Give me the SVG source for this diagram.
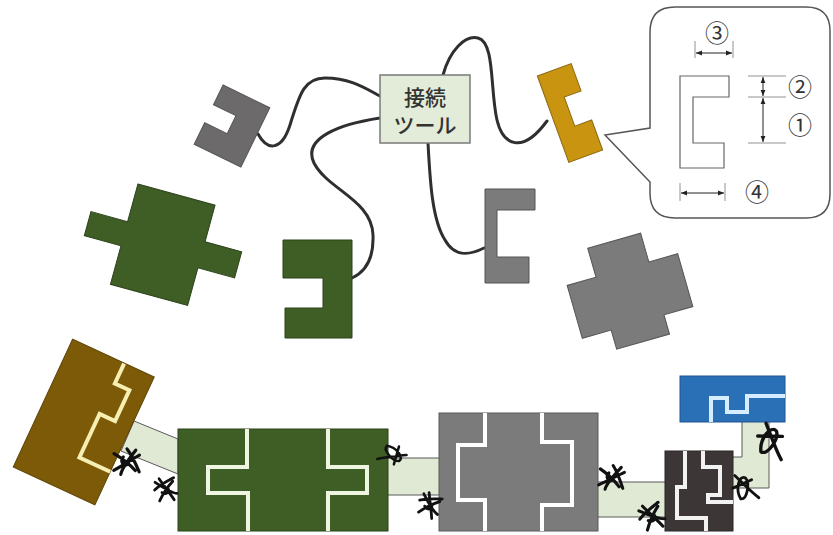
<svg xmlns="http://www.w3.org/2000/svg" width="833" height="535" viewBox="0 0 833 535">
  <style>
    .wire { fill: none; stroke: #2f2f2f; stroke-width: 3; stroke-linecap: round; }
    .piece { stroke-width: 1; stroke-linejoin: miter; }
    .strip { fill: #dfe9d3; stroke: #5a5a5a; stroke-width: 1; }
    .trace { fill: none; stroke-width: 4; stroke-linejoin: miter; }
    .scrib { fill: none; stroke: #111; stroke-width: 2.8; stroke-linecap: round; stroke-linejoin: round; }
    .jp { font-family: "Noto Sans CJK JP", "Noto Sans", sans-serif; fill: #333; }
    .num { font-family: "Noto Sans CJK JP", "DejaVu Sans", sans-serif; fill: #333; font-size: 24px; text-anchor: middle; }
    .dim { stroke: #222; stroke-width: 1; fill: none; }
    .ext { stroke: #777; stroke-width: 0.8; fill: none; }
  </style>
  <defs>
    <marker id="ah" viewBox="0 0 10 10" refX="10" refY="5" markerWidth="6" markerHeight="6" orient="auto-start-reverse">
      <path d="M0,1 L10,5 L0,9 Z" fill="#222"/>
    </marker>
    <!-- hand-drawn bond marks -->
    <path id="star" d="M-11,-3 C-4,-6 4,-7 11,-8 M-3,-12 C-1,-4 2,4 4,13 M-10,9 C-4,3 3,-2 9,-5 M-8,-10 C-2,-2 4,6 9,8 M-5,2 C-2,6 3,4 2,0"/>
    <path id="loop" d="M-8,-14 C-2,-6 6,6 12,12 M-6,10 C-10,0 -4,-14 2,-10 C6,-4 0,12 -6,10 M-12,-2 L8,-7"/>
  </defs>

  <rect width="833" height="535" fill="#ffffff"/>

  <!-- wires from the connection tool -->
  <g id="connectors">
    <path class="wire" d="M258,134 C268,152 282,150 290,125 C300,92 305,78 325,78 C350,78 365,88 380,96"/>
    <path class="wire" d="M380,118 C340,124 302,138 314,163 C328,190 372,200 373,235 C374,260 365,272 352,278"/>
    <path class="wire" d="M443,75 C450,50 465,35 478,38 C495,42 490,90 497,120 C503,145 522,155 547,121"/>
    <path class="wire" d="M428,143 C430,180 432,220 445,240 C455,258 470,255 484,248"/>

    <!-- bonded strips between the lower parts -->
    <polygon class="strip" points="134,421 178,439 178,474 121,451"/>
    <rect class="strip" x="386" y="458" width="56" height="37"/>
    <rect class="strip" x="596" y="482" width="71" height="35"/>
    <polygon class="strip" points="731,457 742,457 742,420 769,420 769,488 731,488"/>
  </g>

  <!-- upper parts -->
  <g id="piece-gray-c-small" transform="translate(232,126) rotate(26)">
    <polygon class="piece" fill="#6d6a6b" stroke="#555" points="-26,-33 26,-33 26,33 -26,33 -26,9 -1,9 -1,-11 -26,-11"/>
  </g>

  <g id="tool">
    <rect x="380" y="75" width="90" height="68" fill="#e2ecd9" stroke="#7a7a7a" stroke-width="1.5"/>
    <text class="jp" x="425" y="105" font-size="21" font-weight="500" text-anchor="middle">接続</text>
    <text class="jp" x="425" y="133" font-size="21" font-weight="500" text-anchor="middle">ツール</text>
  </g>

  <g id="piece-yellow-c" transform="translate(570,113) rotate(-20)">
    <polygon class="piece" fill="#c99410" stroke="#8a6a14" points="-18,-46 18,-46 18,-17 0,-17 0,14 18,14 18,46 -18,46"/>
  </g>

  <g id="piece-green-cross" transform="translate(162.75,244.75) rotate(15.3)">
    <polygon class="piece" fill="#3e5e25" stroke="#2c421b" points="-40,-52 40,-52 40,-14 78,-14 78,13 40,13 40,52 -40,52 -40,12 -78,12 -78,-13 -40,-13"/>
  </g>

  <g id="piece-green-c">
    <polygon class="piece" fill="#3e5e25" stroke="#2c421b" points="283,240 352,240 352,338 285,338 285,308 323,308 323,278 283,278"/>
  </g>

  <g id="piece-gray-c">
    <polygon class="piece" fill="#7b7b7b" stroke="#555" points="485,189 535,189 535,210 497,210 497,257 529,257 529,283 485,283"/>
  </g>

  <g id="piece-gray-cross" transform="translate(630,296) rotate(-16)">
    <polygon class="piece" fill="#7b7b7b" stroke="#555" points="-27.5,-57.5 27.5,-57.5 27.5,-27.5 57.5,-27.5 57.5,27.5 27.5,27.5 27.5,47.5 -27.5,47.5 -27.5,27.5 -57.5,27.5 -57.5,-27.5 -27.5,-27.5"/>
  </g>

  <!-- dimension callout -->
  <g id="callout">
    <path d="M675,7 H806 Q830,7 830,31 V194 Q830,218 806,218 H675 Q650,218 650,193 V182 L605,135 L650,128 V32 Q650,7 675,7 Z" fill="#ffffff" stroke="#555" stroke-width="1.5"/>
    <polygon points="680,76 729,76 729,97 693,97 693,143 724,143 724,168 680,168" fill="none" stroke="#666" stroke-width="1.2"/>
    <!-- 3 -->
    <line class="ext" x1="695" y1="41" x2="695" y2="58"/>
    <line class="ext" x1="733" y1="41" x2="733" y2="58"/>
    <line class="dim" x1="696" y1="53" x2="732" y2="53" marker-start="url(#ah)" marker-end="url(#ah)"/>
    <text class="num" x="717" y="42">③</text>
    <!-- 2 and 1 -->
    <line class="ext" x1="748" y1="76" x2="786" y2="76"/>
    <line class="ext" x1="748" y1="97" x2="786" y2="97"/>
    <line class="ext" x1="748" y1="143" x2="786" y2="143"/>
    <line class="dim" x1="763" y1="77" x2="763" y2="96" marker-start="url(#ah)" marker-end="url(#ah)"/>
    <line class="dim" x1="763" y1="98" x2="763" y2="142" marker-start="url(#ah)" marker-end="url(#ah)"/>
    <text class="num" x="800" y="96">②</text>
    <text class="num" x="800" y="134">①</text>
    <!-- 4 -->
    <line class="ext" x1="680" y1="183" x2="680" y2="201"/>
    <line class="ext" x1="725" y1="183" x2="725" y2="201"/>
    <line class="dim" x1="681" y1="193" x2="724" y2="193" marker-start="url(#ah)" marker-end="url(#ah)"/>
    <text class="num" x="757" y="201">④</text>
  </g>

  <!-- lower assembled board -->
  <g id="board-brown" transform="translate(83.75,422) rotate(24.9)">
    <rect x="-45" y="-70.5" width="90" height="141" fill="#7c5a08" stroke="#5e4406" stroke-width="1"/>
    <path class="trace" stroke="#f6efb4" d="M12,-70 V-48 H28 V-14 H11 V34 H45"/>
  </g>

  <g id="board-green">
    <rect x="178" y="429" width="210" height="102" fill="#3e5e25" stroke="#2c421b" stroke-width="1"/>
    <path class="trace" stroke="#eef5e0" d="M247,429 V467 H208 V493 H248 V531"/>
    <path class="trace" stroke="#eef5e0" d="M328,429 V467 H367 V493 H328 V531"/>
  </g>

  <g id="board-gray">
    <rect x="439" y="413" width="159" height="118" fill="#7b7b7b" stroke="#5a5a5a" stroke-width="1"/>
    <path class="trace" stroke="#ffffff" d="M485,413 V445 H458 V500 H485 V531"/>
    <path class="trace" stroke="#ffffff" d="M542,413 V442 H572 V505 H542 V531"/>
  </g>

  <g id="board-dark">
    <rect x="665" y="451" width="68" height="80" fill="#3c3637" stroke="#2a2526" stroke-width="1"/>
    <path class="trace" stroke="#f2f2f2" stroke-width="3" d="M685,451 V487 H677 V518 H706 V531"/>
    <path class="trace" stroke="#f2f2f2" stroke-width="3" d="M703,451 V467 H720 V495 H708 V502 H733"/>
  </g>

  <g id="board-blue">
    <rect x="680" y="376" width="105" height="46" fill="#2a70b6" stroke="#1f5590" stroke-width="1"/>
    <path class="trace" stroke="#d6ecff" stroke-width="3" d="M711,422 V398 H727 V412 H747 V396 H785"/>
  </g>

  <!-- bond marks -->
  <g id="bonds" class="scrib">
    <use href="#star" transform="translate(127,462) rotate(75) scale(1.15)"/>
    <use href="#star" transform="translate(166,489) rotate(-20)"/>
    <use href="#loop" transform="translate(392,455) rotate(120) scale(0.9)"/>
    <use href="#star" transform="translate(430,505) rotate(10)"/>
    <use href="#star" transform="translate(612,478) rotate(80) scale(1.1)"/>
    <use href="#star" transform="translate(652,516) rotate(-30) scale(1.1)"/>
    <use href="#loop" transform="translate(745,488) rotate(-10)"/>
    <use href="#loop" transform="translate(771,442) rotate(15) scale(1.2)"/>
  </g>
</svg>
